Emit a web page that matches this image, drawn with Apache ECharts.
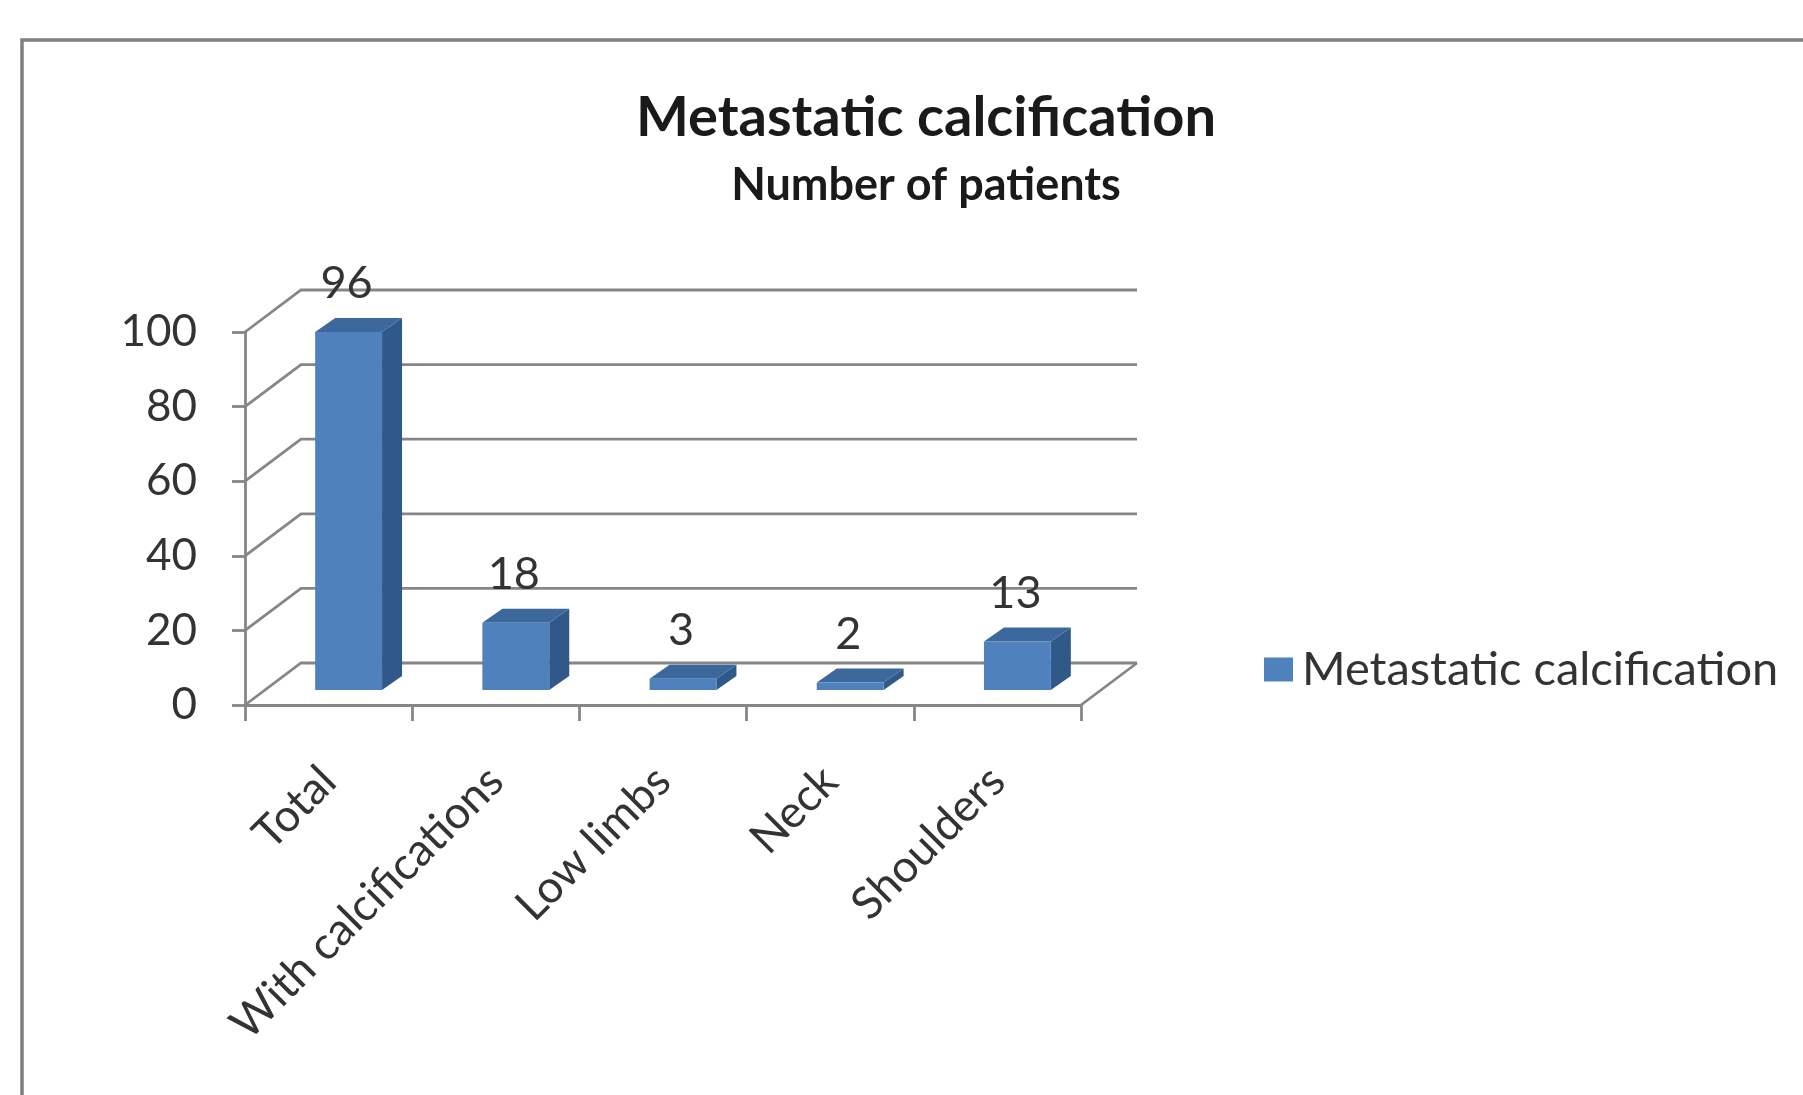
<!DOCTYPE html>
<html>
<head>
<meta charset="utf-8">
<style>
  html, body { margin: 0; padding: 0; background: #fff; }
  #chart { width: 1803px; height: 1095px; }
</style>
<script src="https://cdn.jsdelivr.net/npm/echarts@6/dist/echarts.min.js"></script>
</head>
<body>
<div id="chart"></div>
<script>
// Patient counts by calcification site
const categories = ['Total', 'With calcifications', 'Low limbs', 'Neck', 'Shoulders'];
const patients = [96, 18, 3, 2, 13];
const yTicks = [0, 20, 40, 60, 80, 100];
const seriesName = 'Metastatic calcification';

const FONT = 'Lato, "Open Sans", sans-serif';
const WALL = { dx: 56, dy: -42 };        // depth of the back wall
const BAR_FRONT = { dx: 20, dy: -15 };   // bar front face offset into the depth
const BAR_DEPTH = { dx: 20, dy: -14 };   // bar thickness
const BAR_COLORS = { front: '#4f81bd', top: '#3d689d', side: '#30598a' };
const LINE = '#868686';

const chart = echarts.init(document.getElementById('chart'), null, { renderer: 'canvas' });

function renderWall(params, api) {
  const cs = params.coordSys;
  const v = api.value(1);
  const y = api.coord([0, v])[1];
  const x0 = cs.x, x1 = cs.x + cs.width;
  const children = [{
    type: 'polyline',
    shape: { points: [[x0, y], [x0 + WALL.dx, y + WALL.dy], [x1 + WALL.dx, y + WALL.dy]] },
    style: { stroke: LINE, lineWidth: 2.8, fill: null }
  }];
  if (v === 0) {
    children.push({
      type: 'line',
      shape: { x1: x1, y1: y, x2: x1 + WALL.dx, y2: y + WALL.dy },
      style: { stroke: LINE, lineWidth: 2.8 }
    });
  }
  return { type: 'group', children };
}

function renderBar(params, api) {
  const i = api.value(0), v = api.value(1);
  const base = api.coord([i, 0]);
  const top = api.coord([i, v]);
  const band = api.size([1, 0])[0];
  const w = band * 0.40;
  const cx = base[0] + BAR_FRONT.dx;
  const L = cx - w / 2, R = cx + w / 2;
  const B = base[1] + BAR_FRONT.dy, T = top[1] + BAR_FRONT.dy;
  const ddx = BAR_DEPTH.dx, ddy = BAR_DEPTH.dy;
  return {
    type: 'group',
    children: [
      { type: 'polygon', shape: { points: [[R, T], [R + ddx, T + ddy], [R + ddx, B + ddy], [R, B]] },
        style: { fill: BAR_COLORS.side } },
      { type: 'polygon', shape: { points: [[L, T], [R, T], [R + ddx, T + ddy], [L + ddx, T + ddy]] },
        style: { fill: BAR_COLORS.top } },
      { type: 'rect', shape: { x: L, y: T, width: w, height: B - T },
        style: { fill: BAR_COLORS.front } },
      { type: 'text', x: cx - 2, y: T + ddy - 34,
        style: { text: String(v), textAlign: 'center', textVerticalAlign: 'middle',
                 font: '45px ' + FONT, fill: '#333333' } }
    ]
  };
}

chart.setOption({
  animation: false,
  graphic: [
    { type: 'rect', z: -10, silent: true,
      shape: { x: 22, y: 40, width: 1900, height: 1200 },
      style: { fill: 'transparent', stroke: '#7f7f7f', lineWidth: 3.5 } },
    { type: 'text', x: 926, y: 118,
      style: { text: 'Metastatic calcification', textAlign: 'center', textVerticalAlign: 'middle',
               font: 'bold 56px ' + FONT, fill: '#1a1a1a' } },
    { type: 'text', x: 926, y: 185,
      style: { text: 'Number of patients', textAlign: 'center', textVerticalAlign: 'middle',
               font: 'bold 45px ' + FONT, fill: '#1a1a1a' } }
  ],
  legend: {
    data: [seriesName],
    left: 1259, top: 641,
    icon: 'rect', itemWidth: 29, itemHeight: 24, itemGap: 10,
    textStyle: { fontFamily: FONT, fontSize: 47, color: '#333333', padding: [0, 0, 0, 4] }
  },
  grid: { left: 245, top: 332, width: 836, height: 373, containLabel: false },
  xAxis: {
    type: 'category',
    data: categories,
    boundaryGap: true,
    axisLine: { lineStyle: { color: LINE, width: 2.8 } },
    axisTick: { show: true, length: 16, alignWithLabel: false, lineStyle: { color: LINE, width: 2.8 } },
    axisLabel: {
      rotate: 45, margin: 69, interval: 0,
      fontFamily: FONT, fontSize: 45, color: '#333333'
    },
    splitLine: { show: false }
  },
  yAxis: {
    type: 'value',
    min: 0, max: 100, interval: 20,
    axisLine: { show: true, lineStyle: { color: LINE, width: 2.8 } },
    axisTick: { show: true, length: 13, lineStyle: { color: LINE, width: 2.8 } },
    axisLabel: { margin: 48, fontFamily: FONT, fontSize: 44, color: '#333333' },
    splitLine: { show: false }
  },
  series: [
    {
      type: 'custom',
      name: 'wall',
      z: 1,
      silent: true,
      renderItem: renderWall,
      data: yTicks.map(v => [0, v]),
      encode: { x: 0, y: 1 }
    },
    {
      type: 'custom',
      name: seriesName,
      z: 5,
      itemStyle: { color: BAR_COLORS.front },
      renderItem: renderBar,
      data: patients.map((v, i) => [i, v]),
      encode: { x: 0, y: 1 }
    }
  ]
});
</script>
</body>
</html>
